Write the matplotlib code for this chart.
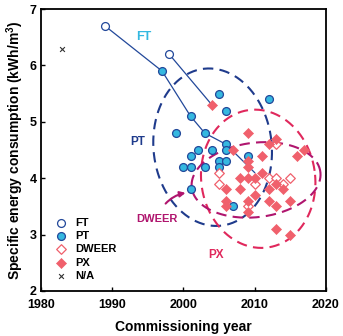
import numpy as np
import matplotlib
matplotlib.use('Agg')
import matplotlib.pyplot as plt

plt.rcParams['font.family'] = ['Liberation Sans', 'DejaVu Sans']
plt.rcParams['font.weight'] = 'bold'
plt.rcParams['axes.labelweight'] = 'bold'
plt.rcParams['mathtext.fontset'] = 'custom'
plt.rcParams['mathtext.rm'] = 'Liberation Sans:bold'
plt.rcParams['mathtext.default'] = 'rm'

# data
ft_year = [1989, 1998]
ft_sec = [6.7, 6.2]

pt_year = [1997, 1999, 2000, 2001, 2001, 2001, 2001, 2002, 2003, 2003, 2004,
           2005, 2005, 2005, 2006, 2006, 2006, 2006, 2007, 2009, 2012]
pt_sec = [5.9, 4.8, 4.2, 5.1, 4.4, 4.2, 3.8, 4.5, 4.8, 4.2, 4.5,
          5.5, 4.3, 4.2, 5.2, 4.6, 4.5, 4.3, 3.5, 4.4, 5.4]

dweer_year = [2005, 2005, 2009, 2010, 2012, 2013, 2013, 2014, 2015]
dweer_sec = [4.1, 3.9, 3.5, 3.9, 4.0, 4.6, 4.0, 3.9, 4.0]

px_year = [2004, 2006, 2006, 2006, 2007, 2008, 2008, 2009, 2009, 2009, 2009,
           2009, 2009, 2010, 2010, 2011, 2011, 2012, 2012, 2012, 2013,
           2013, 2013, 2013, 2014, 2015, 2015, 2016, 2017]
px_sec = [5.3, 3.8, 3.6, 3.5, 4.5, 4.0, 3.8, 4.8, 4.3, 4.2, 4.0,
          3.6, 3.4, 4.0, 3.7, 4.4, 4.1, 4.6, 3.8, 3.6, 4.7,
          3.9, 3.5, 3.1, 3.8, 3.6, 3.0, 4.4, 4.5]

na_year = [1983]
na_sec = [6.3]

# retrofit paths (FT -> later plants)
path1_year = [1989, 1997, 2001, 2003, 2006, 2010]
path1_sec = [6.7, 5.9, 5.1, 4.8, 4.6, 4.1]
path2_year = [1998, 2004]
path2_sec = [6.2, 5.3]

# ellipses: centre year, centre sec, half width (years), half height (kWh/m3), tilt deg
ellipses = {
    'PT': (2004.1, 4.55, 8.3, 1.40, 6, '#1f3b8c'),
    'PX': (2010.5, 3.99, 8.0, 1.23, 8, '#e0285c'),
    'DWEER': (2010.2, 3.97, 9.1, 0.66, 7, '#b0156e'),
}

blue = '#22489a'
cyan = '#35b8e0'
red = '#f0606c'

fig = plt.figure(figsize=(3.43, 3.36), dpi=100)
ax = fig.add_axes([0.1195, 0.134, 0.8305, 0.839])
ax.set_xlim(1980, 2020)
ax.set_ylim(2, 7)

# aspect: years per kWh/m3 in screen terms
w_px = 0.8305 * 343
h_px = 0.839 * 336
s = (h_px / 5.0) / (w_px / 40.0)

t = np.linspace(0, 2 * np.pi, 300)
for name, (cx, cy, a, b, ang, col) in ellipses.items():
    th = np.deg2rad(ang)
    bb = b * s
    u = a * np.cos(t) * np.cos(th) - bb * np.sin(t) * np.sin(th)
    v = a * np.cos(t) * np.sin(th) + bb * np.sin(t) * np.cos(th)
    ax.plot(cx + u, cy + v / s, color=col, lw=1.5, ls=(0, (5, 3)), zorder=1)

ax.plot(path1_year, path1_sec, color=blue, lw=0.9, zorder=2)
ax.plot(path2_year, path2_sec, color=blue, lw=0.9, zorder=2)

ax.scatter(pt_year, pt_sec, s=32, c=cyan, edgecolors=blue, linewidths=0.9,
           zorder=3, label='PT')
ax.scatter(dweer_year, dweer_sec, s=24, marker='D', facecolors='white',
           edgecolors=red, linewidths=0.9, zorder=3, label='DWEER')
ax.scatter(px_year, px_sec, s=26, marker='D', c=red, edgecolors=red,
           linewidths=0.5, zorder=4, label='PX')
ax.scatter(ft_year, ft_sec, s=32, facecolors='white', edgecolors=blue,
           linewidths=0.9, zorder=4, label='FT')
ax.scatter(na_year, na_sec, s=12, marker='x', c='#333333', linewidths=0.8,
           zorder=4, label='N/A')

ax.text(1994.4, 6.5, 'FT', color=cyan, fontsize=9, ha='center', va='center')
ax.text(1993.6, 4.65, 'PT', color='#1f3b8c', fontsize=8.5, ha='center', va='center')
ax.text(2004.6, 2.63, 'PX', color='#e0285c', fontsize=8.5, ha='center', va='center')
ax.annotate('DWEER', xy=(2000.3, 3.74), xytext=(1996.3, 3.27),
            color='#b0156e', fontsize=8, ha='center', va='center',
            arrowprops=dict(arrowstyle='-|>', color='#b0156e', lw=1.5,
                            connectionstyle='arc3,rad=-0.3',
                            shrinkA=7, shrinkB=0, mutation_scale=8))

handles, labels = ax.get_legend_handles_labels()
order = [labels.index(k) for k in ['FT', 'PT', 'DWEER', 'PX', 'N/A']]
ax.legend([handles[i] for i in order], [labels[i] for i in order],
          loc='lower left', bbox_to_anchor=(0.035, 0.02), frameon=False,
          fontsize=8, handletextpad=0.8, labelspacing=0.3,
          borderaxespad=0, handlelength=1.0, scatterpoints=1)

ax.set_xticks([1980, 1990, 2000, 2010, 2020])
ax.set_yticks([2, 3, 4, 5, 6, 7])
ax.tick_params(direction='in', length=3, width=1, labelsize=9)
ax.tick_params(axis='x', pad=6)
ax.tick_params(axis='y', pad=3)
for lab in ax.get_xticklabels() + ax.get_yticklabels():
    lab.set_fontweight('bold')
for sp in ax.spines.values():
    sp.set_linewidth(1.3)
ax.set_xlabel('Commissioning year', fontsize=10, labelpad=6)
ax.set_ylabel('Specific energy consumption (kWh/m$^3$)', fontsize=10,
              labelpad=3)

fig.savefig('out.png', dpi=100)
